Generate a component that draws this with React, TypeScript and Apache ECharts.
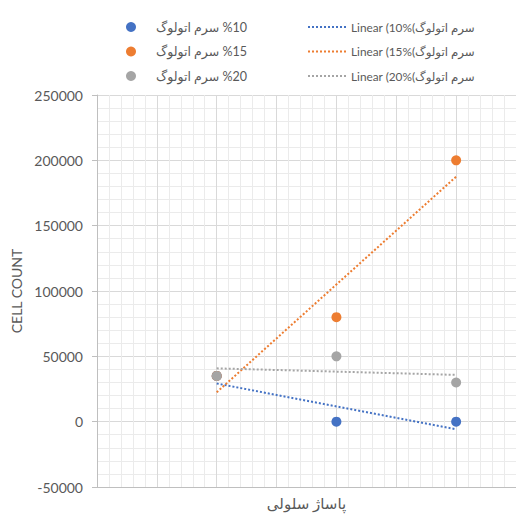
import React, { useEffect, useRef } from "react";
import * as echarts from "echarts";

const xPassages = [2, 4, 6];
const serum10 = [35000, 0, 0];
const serum15 = [35000, 80000, 200000];
const serum20 = [35000, 50000, 30000];
const trend10 = [29200, -5800];
const trend15 = [22500, 187500];
const trend20 = [40800, 35800];
const trendX = [2, 6];

const scatterNames = [
  "سرم اتولوگ \u2066%10\u2069",
  "سرم اتولوگ \u2066%15\u2069",
  "سرم اتولوگ \u2066%20\u2069",
];
const trendNames = [
  "Linear (10%\u2067سرم اتولوگ)\u2069",
  "Linear (15%\u2067سرم اتولوگ)\u2069",
  "Linear (20%\u2067سرم اتولوگ)\u2069",
];
const colors = ["#4472C4", "#ED7D31", "#A5A5A5"];
const yTitle = "CELL COUNT";
const xTitle = "پاساژ سلولی";

const FONT = "Lato, 'DejaVu Sans', sans-serif";

export default function App() {
  const ref = useRef<HTMLDivElement>(null);
  useEffect(() => {
    if (!ref.current) return;
    const chart = echarts.init(ref.current, undefined, { renderer: "svg" });
    const scatterData = [serum10, serum15, serum20];
    const trendData = [trend10, trend15, trend20];
    const scatterSeries = scatterData.map((vals, i) => ({
      name: scatterNames[i],
      type: "scatter",
      symbol: "circle",
      symbolSize: 10,
      itemStyle: { color: colors[i], opacity: 1 },
      data: xPassages.map((x, j) => [x, vals[j]]),
      z: 3,
    }));
    const trendSeries = trendData.map((vals, i) => ({
      name: trendNames[i],
      type: "line",
      symbol: "none",
      showSymbol: false,
      lineStyle: { color: colors[i], width: 2, type: [2, 2] },
      itemStyle: { color: colors[i] },
      data: trendX.map((x, j) => [x, vals[j]]),
      z: 4,
    }));
    const legendText = { fontSize: 12.5, color: "#595959", fontFamily: FONT, lineHeight: 16 };
    chart.setOption({
      animation: false,
      textStyle: { fontFamily: FONT },
      legend: [
        {
          data: scatterNames,
          orient: "vertical",
          left: 121,
          top: 14,
          itemWidth: 10,
          itemHeight: 10,
          itemGap: 8.5,
          icon: "circle",
          textStyle: { ...legendText, padding: [0, 0, 0, 15] },
        },
        {
          data: trendNames,
          orient: "vertical",
          left: 302,
          top: 14,
          itemWidth: 38,
          itemHeight: 10,
          itemGap: 8.5,
          itemStyle: { opacity: 0 },
          textStyle: { ...legendText, fontSize: 11.8 },
        },
      ],
      grid: { left: 97, top: 95, width: 420, height: 397, containLabel: false },
      xAxis: {
        type: "value",
        min: 0,
        max: 7,
        interval: 1,
        name: xTitle,
        nameLocation: "middle",
        nameGap: 8,
        nameTextStyle: { fontSize: 15, color: "#595959", fontFamily: FONT, verticalAlign: "top" },
        axisLine: { show: true, onZero: false, lineStyle: { color: "#bfbfbf", width: 1 } },
        axisTick: { show: false },
        axisLabel: { show: false },
        splitLine: { show: true, lineStyle: { color: "#d9d9d9", width: 1 } },
        minorTick: { show: false, splitNumber: 5 },
        minorSplitLine: { show: true, lineStyle: { color: "#ebebeb", width: 1 } },
      },
      yAxis: {
        type: "value",
        min: -50000,
        max: 250000,
        interval: 50000,
        name: yTitle,
        nameLocation: "middle",
        nameGap: 72,
        nameRotate: 90,
        nameTextStyle: { fontSize: 14, color: "#595959", fontFamily: FONT },
        axisLine: { show: true, lineStyle: { color: "#bfbfbf", width: 1 } },
        axisTick: { show: true, length: 5, lineStyle: { color: "#bfbfbf" } },
        axisLabel: {
          fontSize: 14,
          color: "#595959",
          margin: 14,
          fontFamily: FONT,
          formatter: (v: number) => String(v),
        },
        splitLine: { show: true, lineStyle: { color: "#d9d9d9", width: 1 } },
        minorTick: { show: false, splitNumber: 5 },
        minorSplitLine: { show: true, lineStyle: { color: "#ebebeb", width: 1 } },
      },
      series: [...scatterSeries, ...trendSeries],
    });
    return () => chart.dispose();
  }, []);
  return (
    <div
      ref={ref}
      style={{ position: "fixed", left: 0, top: 0, width: 516, height: 515, background: "#fff" }}
    />
  );
}
